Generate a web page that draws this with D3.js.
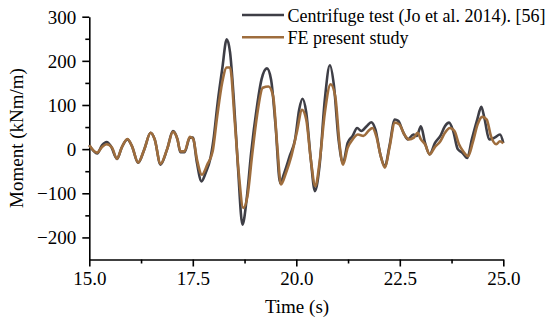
<!DOCTYPE html>
<html>
<head>
<meta charset="utf-8">
<script src="https://cdn.jsdelivr.net/npm/d3@7"></script>
<style>
  body { margin: 0; background: #fff; }
  svg text { font-family: "Liberation Serif", "Times New Roman", serif; fill: #000; }
</style>
</head>
<body>
<svg id="chart" width="550" height="325"></svg>
<script>
// Centrifuge test (Jo et al. 2014)
var timeTest = [15.00,15.19,15.31,15.42,15.52,15.67,15.78,15.92,16.03,16.18,16.33,16.48,16.58,16.72,16.88,17.02,17.13,17.20,17.30,17.43,17.50,17.60,17.71,17.81,17.92,18.00,18.10,18.21,18.32,18.40,18.49,18.59,18.70,18.80,18.91,19.04,19.16,19.29,19.39,19.50,19.61,19.71,19.84,19.97,20.07,20.15,20.24,20.35,20.45,20.56,20.69,20.81,20.91,21.02,21.13,21.24,21.36,21.47,21.57,21.70,21.81,21.91,22.04,22.14,22.25,22.38,22.46,22.59,22.69,22.83,22.91,23.01,23.11,23.22,23.35,23.48,23.59,23.69,23.79,23.90,24.01,24.13,24.24,24.37,24.47,24.55,24.66,24.79,24.92,25.00];
var momentTest = [9,-10,9,16,7,-22,3,22,7,-31,0,37,22,-35,0,41,22,-7,-7,26,26,-31,-73,-54,-23,22,105,181,249,219,113,-39,-171,-114,-8,90,158,183,158,52,-77,-54,-16,22,90,114,83,-23,-95,-39,113,190,143,22,-31,14,30,48,41,52,61,45,-16,-39,7,67,64,37,22,33,30,52,14,-12,14,30,52,60,41,0,-8,-20,22,67,96,67,22,26,33,14];

// FE present study
var timeFE = [15.00,15.19,15.31,15.42,15.55,15.67,15.78,15.92,16.03,16.18,16.33,16.48,16.58,16.72,16.88,17.02,17.13,17.20,17.30,17.43,17.51,17.60,17.72,17.85,17.98,18.09,18.21,18.32,18.40,18.51,18.61,18.72,18.82,18.93,19.05,19.19,19.33,19.44,19.54,19.63,19.75,19.88,20.01,20.14,20.24,20.35,20.46,20.56,20.69,20.83,20.94,21.05,21.13,21.24,21.36,21.49,21.62,21.74,21.84,21.93,22.04,22.14,22.25,22.38,22.49,22.61,22.72,22.84,22.93,23.01,23.11,23.22,23.35,23.48,23.59,23.71,23.82,23.93,24.03,24.15,24.26,24.38,24.49,24.60,24.70,24.83,24.92,25.00];
var momentFE = [9,-8,5,11,3,-22,3,23,7,-30,0,37,22,-33,0,39,22,-5,-5,28,23,-23,-58,-35,-5,75,151,185,185,67,-54,-133,-107,-16,75,139,142,120,7,-80,-54,-16,37,89,67,-23,-84,-31,83,147,120,7,-35,3,22,33,30,41,48,30,-16,-42,3,60,56,33,22,26,37,22,11,-12,5,18,37,48,41,11,-5,-16,14,56,73,67,30,11,18,13];

var xMajor = [15.0, 17.5, 20.0, 22.5, 25.0];
var xMinor = [16.25, 18.75, 21.25, 23.75];
var yMajor = [-200, -100, 0, 100, 200, 300];
var yMinor = [-150, -50, 50, 150, 250];

var seriesNames = ["Centrifuge test (Jo et al. 2014). [56]", "FE present study"];
var seriesColors = ["#3e3e46", "#9e6d3d"];

var svg = d3.select("#chart");

var x = d3.scaleLinear().domain([15, 25]).range([89.3, 503.3]);
var y = d3.scaleLinear().domain([-250, 300]).range([259.5, 16.7]);

// axes
var xAxis = svg.append("g").attr("transform", "translate(0," + y(-250) + ")");
xAxis.call(d3.axisBottom(x).tickValues(xMajor).tickSize(7).tickSizeOuter(0).tickFormat(d3.format(".1f")));
xAxis.append("g").call(d3.axisBottom(x).tickValues(xMinor).tickSize(4).tickFormat(""))
  .select(".domain").remove();

var yAxis = svg.append("g").attr("transform", "translate(" + x(15) + ",0)");
yAxis.call(d3.axisLeft(y).tickValues(yMajor).tickSize(7).tickSizeOuter(0)
  .tickFormat(function(d){ return d3.format("d")(d).replace("-", "\u2212"); }));
yAxis.append("g").call(d3.axisLeft(y).tickValues(yMinor).tickSize(4).tickFormat(""))
  .select(".domain").remove();

svg.selectAll(".domain, .tick line").attr("stroke", "#000").attr("stroke-width", 1.6);
xAxis.selectAll(".tick text").attr("font-size", 19).attr("dy", "0.95em").attr("y", 7);
yAxis.selectAll(".tick text").attr("font-size", 19).attr("x", -13).attr("dy", "0.34em");
svg.selectAll(".tick text").attr("font-family", "Liberation Serif");

// lines
var line = d3.line().curve(d3.curveMonotoneX)
  .x(function(d){ return x(d[0]); })
  .y(function(d){ return y(d[1]); });

var series = [
  d3.zip(timeTest, momentTest),
  d3.zip(timeFE, momentFE)
];

svg.selectAll("path.series").data(series).enter().append("path")
  .attr("class", "series")
  .attr("d", line)
  .attr("fill", "none")
  .attr("stroke", function(d, i){ return seriesColors[i]; })
  .attr("stroke-width", 2.6)
  .attr("stroke-linejoin", "round");

// axis titles
svg.append("text")
  .attr("x", 297).attr("y", 313)
  .attr("text-anchor", "middle").attr("font-size", 19)
  .text("Time (s)");

svg.append("text")
  .attr("transform", "translate(23,138) rotate(-90)")
  .attr("text-anchor", "middle").attr("font-size", 19)
  .text("Moment (kNm/m)");

// legend
var legend = svg.selectAll("g.legend").data(seriesNames).enter().append("g")
  .attr("class", "legend")
  .attr("transform", function(d, i){ return "translate(0," + (15 + i * 22.3) + ")"; });
legend.append("line")
  .attr("x1", 242).attr("x2", 284)
  .attr("stroke", function(d, i){ return seriesColors[i]; })
  .attr("stroke-width", 2.6);
legend.append("text")
  .attr("x", 287.5).attr("y", 6.5)
  .attr("font-size", 18)
  .text(function(d){ return d; });
</script>
</body>
</html>
